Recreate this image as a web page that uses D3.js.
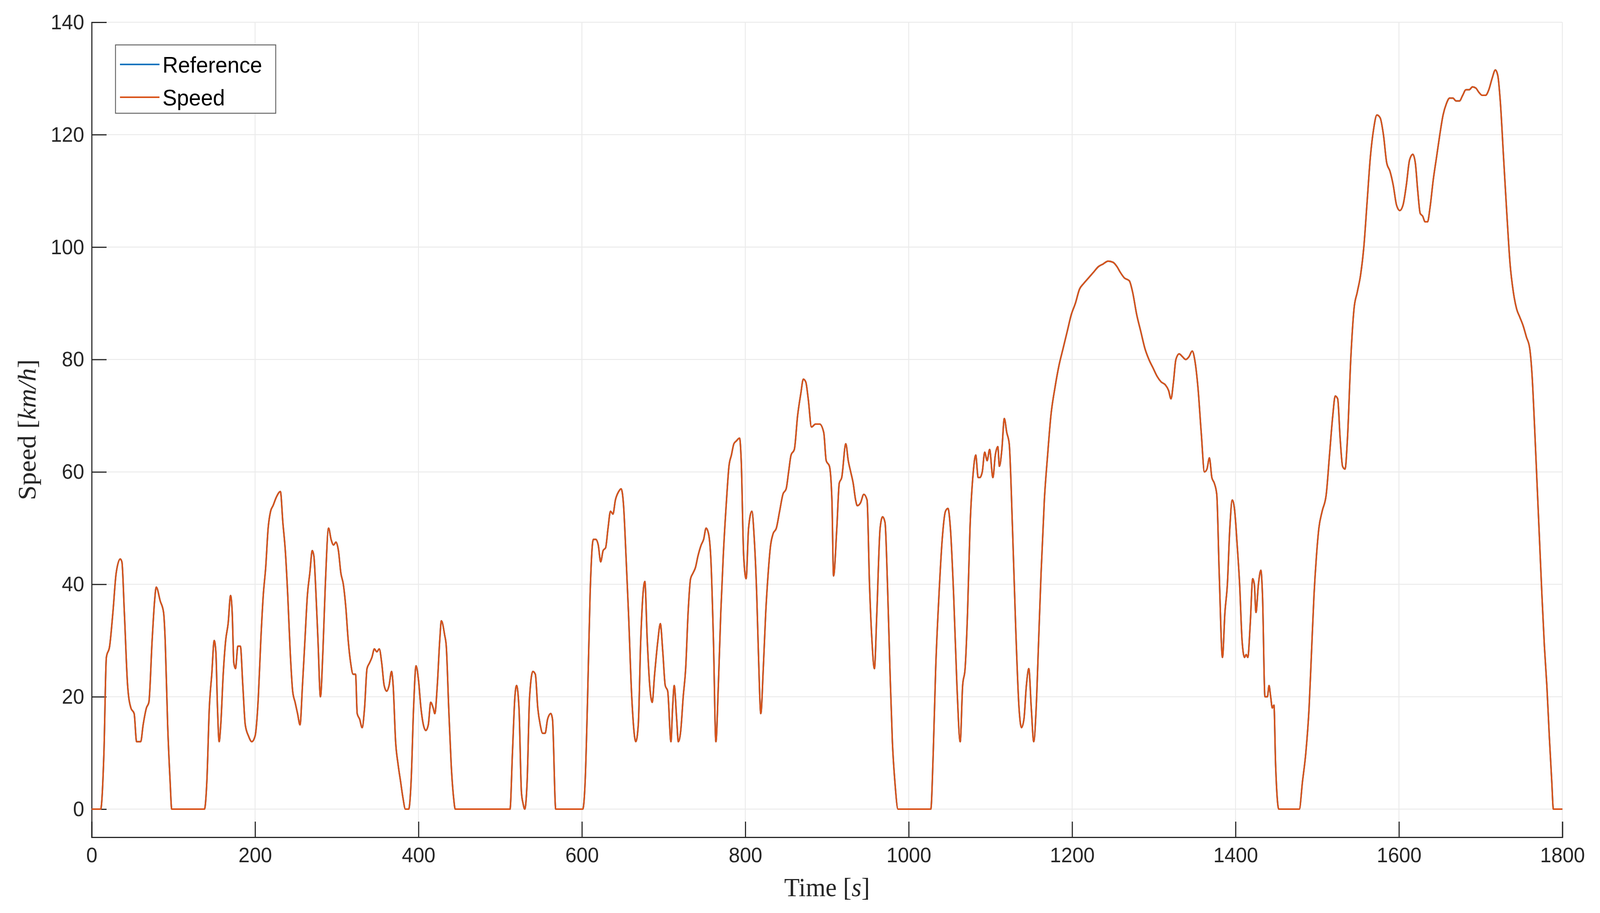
<!DOCTYPE html>
<html><head><meta charset="utf-8">
<script src="https://cdn.jsdelivr.net/npm/d3@7"></script>
<style>html,body{margin:0;padding:0;overflow:hidden;background:#fff}svg{display:block}</style></head>
<body><svg id="chart" viewBox="0 0 4294 2338" preserveAspectRatio="none" style="width:100vw;height:100vh"></svg>
<script>
// [time s, speed km/h]
const speedSamples = [
[0,0],[11,0],[15,10],[18,27],[22,29],[26,35],[30,42],[35,44.5],[37,44],[40,35],[44,22],[48,18],[52,17],[55,12],[60,12],[63,15],[67,18],[70,19],[74,30],[77,37],[79,39.5],[84,37],[88,35],[90,30],[93,15],[96,5],[98,0],
[138,0],[141,5],[144,18],[147,24],[150,30],[152,28],[154,18],[156,12],[158,15],[161,24],[164,30],[167,33],[170,38],[172,35],[174,26],[176,25],[179,29],[182,29],[185,22],[188,15],[192,13],[196,12],[200,13],[204,20],[207,30],[210,38],[213,43],[216,50],[219,53],[222,54],[226,55.5],[231,56.5],[234,51],[237,46],[240,38],[243,28],[246,21],[249,19],[252,17],[255,15],[258,22],[261,30],[264,38],[267,42],[270,46],[272,45],[274,40],[277,30],[280,20],[283,28],[286,40],[290,50],[293,48],[296,47],[299,47.5],[302,46],[305,42],[308,40],[311,36],[314,30],[317,26],[320,24],[323,24],[325,17],[328,16],[331,14.5],[334,18],[337,25],[340,26],[343,27],[346,28.5],[349,28],[352,28.5],[355,26],[358,22],[361,21],[364,22],[367,24.5],[369,22],[372,12],[375,8],[378,5],[381,2],[384,0],[388,0],[391,5],[394,18],[397,25.5],[400,23],[403,18],[406,15],[409,14],[412,15],[415,19],[418,18],[420,17],[423,22],[426,30],[428,33.5],[432,31],[434,29],[437,18],[440,8],[443,2],[445,0],
[512,0],[515,10],[518,20],[520,22],[523,18],[526,3],[528,1],[530,0],[533,5],[536,20],[540,24.5],[543,24],[546,18],[549,15],[552,13.5],[555,13.5],[558,16],[562,17],[564,16],[568,0],
[601,0],[604,5],[607,20],[610,38],[614,48],[617,48],[620,47],[623,44],[626,46],[629,46.5],[632,50],[635,53],[638,52.5],[641,55],[645,56.5],[648,57],[651,54],[654,45],[657,35],[661,20],[666,12],[669,15],[672,30],[677,40.5],[680,30],[683,22],[686,19],[689,24],[693,30],[696,33],[699,28],[702,22],[705,21],[709,12],[711,18],[713,22],[716,16],[718,12],[721,14],[724,20],[727,25],[730,35],[733,41],[736,42],[739,43],[742,45],[746,47],[749,48],[752,50],[755,49],[758,44],[761,30],[764,12],[767,22],[770,35],[773,45],[777,55],[780,61],[783,63],[786,65],[789,65.5],[793,66],[795,62],[798,45],[801,41],[804,50],[808,53],[811,48],[814,38],[816,28],[819,17],[822,25],[825,35],[828,42],[831,47],[834,49],[838,50],[842,53],[846,56],[850,57],[853,60],[856,63],[860,64],[864,70],[868,74],[871,76.5],[874,76],[877,73],[881,68],[886,68.5],[891,68.5],[896,67],[899,62],[903,61],[906,55],[908,41.5],[912,50],[915,58],[918,59],[923,65],[926,62],[929,60],[932,58],[935,55],[937,54],[941,54.5],[945,56],[949,55],[952,40],[955,30],[958,25],[961,35],[965,50],[968,52],[971,51],[974,40],[977,25],[980,12],[983,5],[987,0],
[1027,0],[1030,10],[1033,25],[1037,38],[1041,48],[1045,53],[1048,53.5],[1051,50],[1055,38],[1059,22],[1063,12],[1066,22],[1069,25],[1072,35],[1075,50],[1079,60],[1082,63],[1085,59],[1087,59],[1090,60],[1093,63.5],[1096,62],[1099,64],[1103,59],[1106,63],[1109,64.5],[1111,61],[1114,64],[1117,69.5],[1120,67],[1123,65],[1127,50],[1131,32],[1135,18],[1138,14.5],[1141,16],[1144,22],[1147,25],[1150,18],[1153,12],[1156,18],[1159,30],[1162,42],[1166,55],[1170,63],[1174,70],[1179,75],[1184,79],[1189,82],[1194,85],[1199,88],[1204,90],[1209,92.5],[1214,93.5],[1220,94.5],[1226,95.5],[1232,96.5],[1238,97],[1244,97.5],[1250,97.3],[1255,96.5],[1259,95.5],[1264,94.5],[1270,94],[1274,92],[1279,88],[1284,85],[1289,82],[1294,80],[1299,78.5],[1304,77],[1309,76],[1314,75.5],[1318,74.5],[1321,73],[1324,76],[1327,80],[1331,81],[1335,80.5],[1339,80],[1343,80.5],[1347,81.5],[1350,80],[1354,75],[1358,67],[1362,60],[1365,60.5],[1368,62.5],[1371,59],[1374,58],[1377,56],[1380,42],[1384,27],[1387,35],[1390,40],[1393,50],[1396,55],[1399,53],[1402,47],[1405,40],[1408,30],[1411,27],[1413,27.5],[1415,27],[1418,33],[1421,41],[1423,40],[1425,35],[1428,40],[1431,42.5],[1433,38],[1436,20],[1439,20],[1441,22],[1443,20],[1445,18],[1447,18.5],[1449,8],[1453,0],
[1478,0],[1482,5],[1486,10],[1490,18],[1493,28],[1496,38],[1499,45],[1502,50],[1506,53],[1511,56],[1515,63],[1519,70],[1522,73.5],[1525,73],[1528,66],[1531,61],[1534,60.5],[1537,66],[1541,80],[1545,89],[1549,92],[1553,95],[1557,100],[1561,108],[1565,116],[1569,121],[1573,123.5],[1577,123],[1581,120],[1585,115],[1589,113.5],[1593,111],[1597,107.5],[1601,106.5],[1605,107.5],[1609,111],[1613,115.5],[1617,116.5],[1620,115],[1623,110],[1626,106],[1629,105.5],[1632,104.5],[1635,104.5],[1638,107],[1642,112],[1646,116],[1650,120],[1654,123.5],[1658,125.5],[1662,126.5],[1666,126.5],[1670,126],[1674,126],[1678,127],[1682,128],[1686,128],[1690,128.5],[1694,128.3],[1698,127.5],[1702,127],[1706,127],[1710,128],[1714,130],[1718,131.5],[1721,130.5],[1724,126],[1728,116],[1732,106],[1736,97],[1740,92],[1744,89],[1748,87.5],[1752,86],[1756,84],[1760,82],[1763,77],[1766,68],[1769,58],[1772,48],[1775,38],[1778,29],[1781,22],[1784,13],[1787,5],[1789,0],[1800,0]
];
const time = speedSamples.map((d) => d[0]);
const speed = speedSamples.map((d) => d[1]);
const reference = speed.slice();
const legendLabels = ["Reference", "Speed"];
const colors = ["#0072BD", "#D95319"];
const xTicks = d3.range(0, 1801, 200);
const yTicks = d3.range(0, 141, 20);
</script>
<script>
const svg = d3.select("#chart");
const m = {left: 246, right: 4193, top: 57, bottom: 2144};
const x = d3.scaleLinear().domain([0, 1800]).range([m.left, m.right]);
const y = d3.scaleLinear().domain([-5, 140]).range([m.bottom, m.top]);
const font = "'Liberation Sans', Arial, sans-serif";

svg.append("g").selectAll("line").data(xTicks.slice(1)).join("line")
	.attr("x1", (d) => x(d)).attr("x2", (d) => x(d))
	.attr("y1", m.top).attr("y2", m.bottom)
	.attr("stroke", "#ebebeb").attr("stroke-width", 2.5);
svg.append("g").selectAll("line").data(yTicks).join("line")
	.attr("x1", m.left).attr("x2", m.right)
	.attr("y1", (d) => y(d)).attr("y2", (d) => y(d))
	.attr("stroke", "#ebebeb").attr("stroke-width", 2.5);

const xAxis = svg.append("g").attr("transform", `translate(0,${m.bottom})`)
	.call(d3.axisBottom(x).tickValues(xTicks).tickFormat(d3.format("d")).tickSize(-40).tickPadding(26));
const yAxis = svg.append("g").attr("transform", `translate(${m.left},0)`)
	.call(d3.axisLeft(y).tickValues(yTicks).tickSize(-40).tickPadding(20));
[xAxis, yAxis].forEach((a) => {
	a.select(".domain").attr("stroke", "#262626").attr("stroke-width", 3);
	a.selectAll(".tick line").attr("stroke", "#262626").attr("stroke-width", 3);
	a.selectAll("text").attr("font-family", font).attr("font-size", 54).attr("fill", "#262626");
});

const line = d3.line().x((d) => x(d[0])).y((d) => y(d[1])).curve(d3.curveMonotoneX);
[reference, speed].forEach((s, i) => {
	svg.append("path").datum(time.map((t, j) => [t, s[j]]))
		.attr("fill", "none").attr("stroke", colors[i]).attr("stroke-width", 4)
		.attr("stroke-linejoin", "round").attr("d", line);
});

const serif = "'Liberation Serif', 'DejaVu Serif', serif";
const xl = svg.append("text").attr("x", (m.left + m.right) / 2).attr("y", 2295)
	.attr("text-anchor", "middle").attr("font-family", serif).attr("font-size", 68).attr("fill", "#262626");
xl.append("tspan").text("Time [");
xl.append("tspan").attr("font-style", "italic").text("s");
xl.append("tspan").text("]");
const yl = svg.append("text").attr("transform", `translate(95,${(m.top + m.bottom) / 2}) rotate(-90)`)
	.attr("text-anchor", "middle").attr("font-family", serif).attr("font-size", 68).attr("fill", "#262626");
yl.append("tspan").text("Speed [");
yl.append("tspan").attr("font-style", "italic").text("km/h");
yl.append("tspan").text("]");

const lg = svg.append("g").attr("transform", "translate(310,115)");
lg.append("rect").attr("width", 430).attr("height", 175)
	.attr("fill", "#fff").attr("stroke", "#666").attr("stroke-width", 2.5);
legendLabels.forEach((l, i) => {
	const yy = 50 + i * 84;
	lg.append("line").attr("x1", 12).attr("x2", 118).attr("y1", yy).attr("y2", yy)
		.attr("stroke", colors[i]).attr("stroke-width", 4);
	lg.append("text").attr("x", 126).attr("y", yy).attr("dy", "0.36em")
		.attr("font-family", font).attr("font-size", 58).attr("fill", "#000").text(l);
});
</script></body></html>
